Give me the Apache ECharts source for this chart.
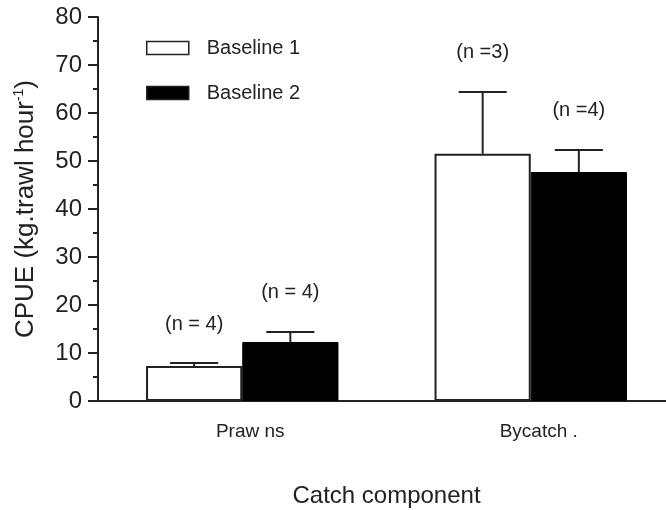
<!DOCTYPE html>
<html>
<head>
<meta charset="utf-8">
<script src="https://cdn.jsdelivr.net/npm/echarts@6/dist/echarts.min.js"></script>
<style>
html,body{margin:0;padding:0;background:#fff;}
#chart{width:666px;height:510px;}
</style>
</head>
<body>
<div id="chart"></div>
<script>
const categories = ['Praw ns', 'Bycatch .'];
const seriesNames = ['Baseline 1', 'Baseline 2'];
const baseline1Mean = [7.3, 51.5];
const baseline1Err = [0.6, 12.9];
const baseline2Mean = [12.3, 47.7];
const baseline2Err = [2.1, 4.6];
const baseline1N = ['(n = 4)', '(n =3)'];
const baseline2N = ['(n = 4)', '(n =4)'];
const yTicks = [0, 10, 20, 30, 40, 50, 60, 70, 80];

const FONT = '"Liberation Sans", Arial, sans-serif';
const INK = '#222';

function errorSeries(means, errs, labels, side) {
  return {
    type: 'custom',
    name: 'err' + side,
    z: 5,
    silent: true,
    data: means.map((m, i) => [i, m, errs[i], labels[i]]),
    renderItem: function (params, api) {
      const idx = api.value(0);
      const band = api.size([1, 0])[0];
      const x = api.coord([idx, 0])[0] + side * band / 6;
      const yBar = api.coord([idx, api.value(1)])[1];
      const yTop = api.coord([idx, api.value(1) + api.value(2)])[1];
      const half = band / 12;
      const lbl = labels[params.dataIndex];
      return {
        type: 'group',
        children: [
          { type: 'line', shape: { x1: x, y1: yBar, x2: x, y2: yTop }, style: { stroke: INK, lineWidth: 2 } },
          { type: 'line', shape: { x1: x - half, y1: yTop, x2: x + half, y2: yTop }, style: { stroke: INK, lineWidth: 2 } },
          { type: 'text', style: { text: lbl, x: x, y: yTop - 39, align: 'center', verticalAlign: 'middle', font: '20px ' + FONT, fill: INK } }
        ]
      };
    }
  };
}

const chart = echarts.init(document.getElementById('chart'), null, { renderer: 'canvas' });
chart.setOption({
  animation: false,
  backgroundColor: '#fff',
  textStyle: { fontFamily: FONT, color: INK },
  grid: { left: 98, top: 17, bottom: 109, right: -9, containLabel: false, outerBoundsMode: 'none' },
  legend: {
    orient: 'vertical',
    left: 141,
    top: 33,
    itemWidth: 42,
    itemHeight: 13,
    itemGap: 25,
    icon: 'rect',
    data: seriesNames,
    textStyle: { fontSize: 20, color: INK, fontFamily: FONT, padding: [0, 0, 0, 13] },
    itemStyle: { borderColor: INK, borderWidth: 1.5 }
  },
  xAxis: {
    type: 'category',
    data: categories,
    name: 'Catch component',
    nameLocation: 'middle',
    nameGap: 83,
    nameTextStyle: { fontSize: 24, color: INK, fontFamily: FONT },
    axisLine: { lineStyle: { color: INK, width: 2 } },
    axisTick: { show: false },
    axisLabel: { fontSize: 19, color: INK, margin: 21, fontFamily: FONT, padding: [0, 0, 0, 16] }
  },
  yAxis: {
    type: 'value',
    min: yTicks[0],
    max: yTicks[yTicks.length - 1],
    interval: yTicks[1] - yTicks[0],
    name: '{a|CPUE (kg.trawl hour}{s|-1}{a|)}',
    nameLocation: 'middle',
    nameGap: 58,
    nameRotate: 90,
    nameTextStyle: {
      rich: {
        a: { fontSize: 26, color: INK, fontFamily: FONT, lineHeight: 28 },
        s: { fontSize: 14, color: INK, fontFamily: FONT, lineHeight: 28, padding: [0, 0, 13, 0] }
      }
    },
    axisLine: { show: true, lineStyle: { color: INK, width: 2 } },
    axisTick: { show: true, inside: false, length: 10, lineStyle: { color: INK, width: 2 } },
    minorTick: { show: true, splitNumber: 2, length: 5, lineStyle: { color: INK, width: 2 } },
    splitLine: { show: false },
    axisLabel: { fontSize: 24, color: INK, margin: 16, fontFamily: FONT }
  },
  series: [
    {
      type: 'bar',
      name: seriesNames[0],
      data: baseline1Mean,
      barGap: '0%',
      barCategoryGap: '33.3%',
      itemStyle: { color: '#fff', borderColor: INK, borderWidth: 2 }
    },
    {
      type: 'bar',
      name: seriesNames[1],
      data: baseline2Mean,
      barGap: '0%',
      barCategoryGap: '33.3%',
      itemStyle: { color: '#000', borderColor: '#000', borderWidth: 1 }
    },
    errorSeries(baseline1Mean, baseline1Err, baseline1N, -1),
    errorSeries(baseline2Mean, baseline2Err, baseline2N, 1)
  ]
});
</script>
</body>
</html>
